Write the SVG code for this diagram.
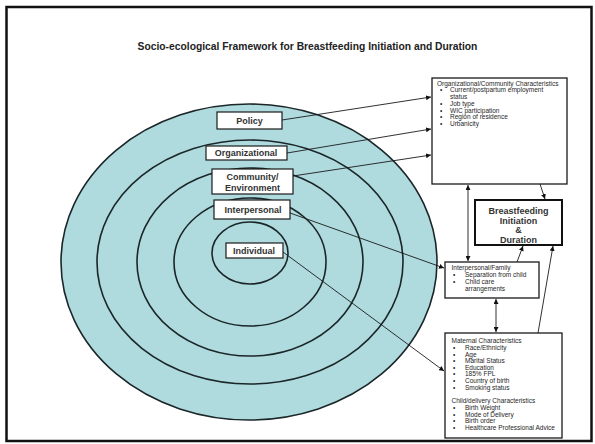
<svg xmlns="http://www.w3.org/2000/svg" width="595" height="444" viewBox="0 0 595 444">
<defs>
<marker id="ah" viewBox="0 0 10 10" refX="10" refY="5" markerWidth="5" markerHeight="5" markerUnits="userSpaceOnUse" orient="auto-start-reverse">
<path d="M0,0 L10,5 L0,10 z" fill="#111"/>
</marker>
</defs>
<style>
.ring{fill:#AFDBDF;stroke:#1b2628;stroke-width:1.6}
.lbl{fill:#fff;stroke:#1a1a1a;stroke-width:1.2}
.lt{font-family:"Liberation Sans",Arial,sans-serif;font-weight:bold;font-size:9px;fill:#333;text-anchor:middle}
.box{fill:#fff;stroke:#1a1a1a;stroke-width:1.3}
.bt{font-family:"Liberation Sans",Arial,sans-serif;font-size:6.5px;fill:#262626}
.con{stroke:#1a1a1a;stroke-width:0.9;fill:none}
</style>
<rect x="0" y="0" width="595" height="444" fill="#fff"/>
<rect x="6.5" y="7" width="585" height="434" fill="none" stroke="#111" stroke-width="2.5"/>
<text x="307.5" y="49.5" font-family="Liberation Sans,Arial,sans-serif" font-weight="bold" font-size="10.3" fill="#222" text-anchor="middle">Socio-ecological Framework for Breastfeeding Initiation and Duration</text>

<g id="rings">
<ellipse class="ring" cx="249" cy="262" rx="188" ry="158"/>
<ellipse class="ring" cx="250" cy="262" rx="153" ry="122"/>
<ellipse class="ring" cx="250" cy="262" rx="113" ry="94"/>
<ellipse class="ring" cx="250" cy="262" rx="76" ry="64"/>
<ellipse class="ring" cx="250" cy="253" rx="38" ry="31"/>
</g>

<g id="connectors">
<line class="con" x1="282" y1="120" x2="431" y2="97" marker-end="url(#ah)"/>
<line class="con" x1="287" y1="153" x2="431" y2="129" marker-end="url(#ah)"/>
<line class="con" x1="293" y1="176" x2="431" y2="155" marker-end="url(#ah)"/>
<line class="con" x1="290" y1="213" x2="444" y2="268" marker-end="url(#ah)"/>
<line class="con" x1="283" y1="252" x2="444" y2="371" marker-end="url(#ah)"/>
<line class="con" x1="468" y1="185" x2="468" y2="261" marker-start="url(#ah)" marker-end="url(#ah)"/>
<line class="con" x1="496" y1="299" x2="496" y2="332" marker-start="url(#ah)" marker-end="url(#ah)"/>
<line class="con" x1="540" y1="184" x2="545" y2="199" marker-end="url(#ah)"/>
<line class="con" x1="517" y1="262" x2="523" y2="246" marker-end="url(#ah)"/>
<line class="con" x1="538" y1="333" x2="553" y2="246" marker-end="url(#ah)"/>
</g>

<g id="policy">
<rect class="lbl" x="217" y="112" width="65" height="17"/>
<text class="lt" x="249.5" y="124">Policy</text>
</g>
<g id="organizational">
<rect class="lbl" x="206" y="146" width="81" height="14"/>
<text class="lt" x="246" y="156.2">Organizational</text>
</g>
<g id="community">
<rect class="lbl" x="212" y="169" width="81" height="25"/>
<text class="lt" x="252.5" y="180">Community/</text>
<text class="lt" x="252.5" y="190.5">Environment</text>
</g>
<g id="interpersonal">
<rect class="lbl" x="214" y="200" width="76" height="19"/>
<text class="lt" x="253" y="212.5">Interpersonal</text>
</g>
<g id="individual">
<rect class="lbl" x="226" y="243" width="57" height="15"/>
<text class="lt" x="254" y="253.5">Individual</text>
</g>

<g id="org-community-characteristics">
<rect class="box" x="432" y="78" width="135" height="106"/>
<g class="bt">
<text x="437" y="85.5">Organizational/Community Characteristics</text>
<text x="440" y="92.3">•</text><text x="450" y="92.3">Current/postpartum  employment</text>
<text x="450" y="99">status</text>
<text x="440" y="105.8">•</text><text x="450" y="105.8">Job type</text>
<text x="440" y="112.6">•</text><text x="450" y="112.6">WIC participation</text>
<text x="440" y="119.4">•</text><text x="450" y="119.4">Region of residence</text>
<text x="440" y="126.2">•</text><text x="450" y="126.2">Urbanicity</text>
</g>
</g>

<g id="breastfeeding">
<rect x="475" y="200" width="87" height="45" fill="#fff" stroke="#111" stroke-width="2"/>
<g font-family="Liberation Sans,Arial,sans-serif" font-weight="bold" font-size="9" fill="#333" text-anchor="middle">
<text x="518.5" y="214">Breastfeeding</text>
<text x="518.5" y="223.5">Initiation</text>
<text x="518.5" y="232.5">&amp;</text>
<text x="518.5" y="243">Duration</text>
</g>
</g>

<g id="interpersonal-family">
<rect class="box" x="445" y="262" width="94" height="36"/>
<g class="bt">
<text x="451.5" y="270.3">Interpersonal/Family</text>
<text x="453" y="277.3">•</text><text x="465" y="277.3">Separation from child</text>
<text x="453" y="284.3">•</text><text x="465" y="284.3">Child care</text>
<text x="465" y="291.3">arrangements</text>
</g>
</g>

<g id="maternal-characteristics">
<rect class="box" x="445" y="333" width="117" height="105"/>
<g class="bt">
<text x="451.5" y="343.3">Maternal Characteristics</text>
<text x="453" y="349.9">•</text><text x="465" y="349.9">Race/Ethnicity</text>
<text x="453" y="356.5">•</text><text x="465" y="356.5">Age</text>
<text x="453" y="363.1">•</text><text x="465" y="363.1">Marital Status</text>
<text x="453" y="369.7">•</text><text x="465" y="369.7">Education</text>
<text x="453" y="376.3">•</text><text x="465" y="376.3">185% FPL</text>
<text x="453" y="382.9">•</text><text x="465" y="382.9">Country of birth</text>
<text x="453" y="389.5">•</text><text x="465" y="389.5">Smoking status</text>
<text x="451.5" y="403.3">Child/delivery Characteristics</text>
<text x="453" y="410">•</text><text x="465" y="410">Birth Weight</text>
<text x="453" y="416.7">•</text><text x="465" y="416.7">Mode of Delivery</text>
<text x="453" y="423.4">•</text><text x="465" y="423.4">Birth order</text>
<text x="453" y="430.1">•</text><text x="465" y="430.1">Healthcare Professional Advice</text>
</g>
</g>
</svg>
